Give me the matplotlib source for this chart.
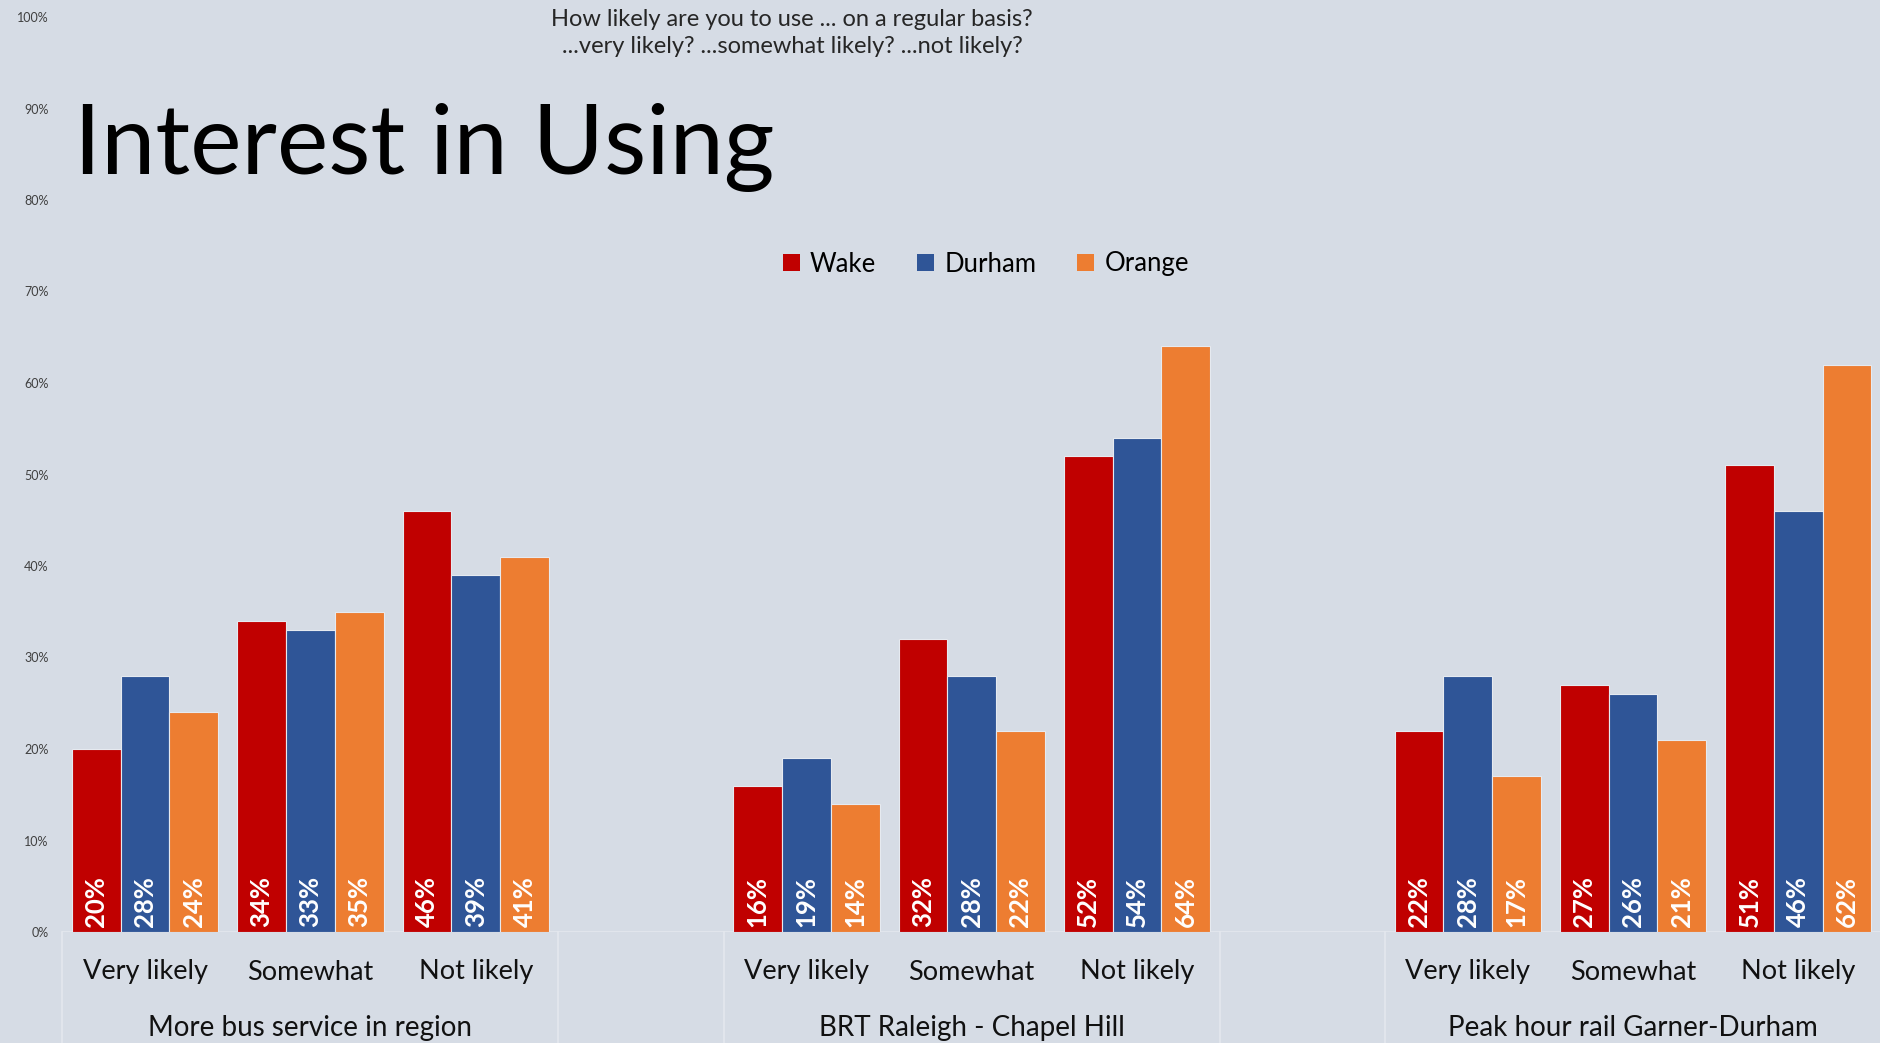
import matplotlib
matplotlib.use("Agg")
import matplotlib.pyplot as plt
from matplotlib.lines import Line2D
from matplotlib.patches import Patch
from matplotlib.ticker import FuncFormatter

# ---- data ----
groups = ["More bus service in region", "BRT Raleigh - Chapel Hill", "Peak hour rail Garner-Durham"]
categories = ["Very likely", "Somewhat", "Not likely"]
series_names = ["Wake", "Durham", "Orange"]
wake = [20, 34, 46, 16, 32, 52, 22, 27, 51]
durham = [28, 33, 39, 19, 28, 54, 28, 26, 46]
orange = [24, 35, 41, 14, 22, 64, 17, 21, 62]
yticks = [0, 10, 20, 30, 40, 50, 60, 70, 80, 90, 100]
title = "Interest in Using"
subtitle = "How likely are you to use ... on a regular basis?\n...very likely? ...somewhat likely? ...not likely?"

colors = ["#C00000", "#2F5597", "#ED7D31"]
bg = "#D6DCE5"
linec = "#E4E8EE"
FONT = ["Lato", "DejaVu Sans"]

W, H = 1881, 1043
fig = plt.figure(figsize=(W / 100, H / 100), dpi=100, facecolor=bg)
left = 62.4 / W
bottom = (H - 932) / H
top = (H - 17) / H
ax = fig.add_axes([left, bottom, 1 - left, top - bottom], facecolor=bg)

n_slots = len(groups) * (len(categories) + 1) - 1
centers = []
for g in range(len(groups)):
    for c in range(len(categories)):
        centers.append(g * (len(categories) + 1) + c + 0.5)

bw = 0.295
all_series = [wake, durham, orange]
for i, (vals, col) in enumerate(zip(all_series, colors)):
    xs = [x + (i - 1) * bw for x in centers]
    ax.bar(xs, vals, width=bw, color=col, edgecolor="#E6EAF0", linewidth=0.8, zorder=3)
    for x, v in zip(xs, vals):
        ax.annotate(f"{v}%", xy=(x, 0), xytext=(0, 3.5), textcoords="offset points",
                    rotation=90, ha="center", va="bottom", color="white",
                    fontsize=18.5, fontweight="bold", family=FONT, zorder=4)

ax.set_xlim(0, n_slots)
ax.set_ylim(0, 100)
ax.set_yticks(yticks)
ax.yaxis.set_major_formatter(FuncFormatter(lambda v, p: f"{int(v)}%"))
ax.tick_params(axis="y", length=0, pad=10, labelsize=9, labelcolor="#404040")
for lab in ax.get_yticklabels():
    lab.set_family(FONT)
ax.set_xticks([])
for s in ax.spines.values():
    s.set_visible(False)

# baseline
ax.axhline(0, color=linec, lw=1.2, zorder=2)

# separator lines below axis
ylow = -bottom / (top - bottom)
xform = ax.get_xaxis_transform()
seps = [0]
for g in range(len(groups)):
    start = g * (len(categories) + 1)
    seps += [start, start + len(categories)]
for sx in sorted(set(seps)):
    ax.add_line(Line2D([sx, sx], [0, ylow], transform=xform, color=linec, lw=1.2, clip_on=False))

# category and group labels
ycat = (H - 972) / H
ygrp = (H - 1028) / H
for x, cat in zip(centers, categories * len(groups)):
    fx = left + (1 - left) * x / n_slots
    fig.text(fx, ycat, cat, ha="center", va="center", fontsize=19.5, family=FONT, color="#111111")
for g, name in enumerate(groups):
    gx = g * (len(categories) + 1) + len(categories) / 2
    fx = left + (1 - left) * gx / n_slots
    fig.text(fx, ygrp, name, ha="center", va="center", fontsize=20, family=FONT, color="#111111")

# title & subtitle
fig.text(74 / W, (H - 174) / H, title, ha="left", va="baseline", fontsize=70, family=FONT, color="black")
fig.text(792 / W, (H - 33) / H, subtitle, ha="center", va="center", fontsize=17, family=FONT,
         color="#262626", linespacing=1.35)

# legend
handles = [Patch(facecolor=c, edgecolor="none") for c in colors]
fig.legend(handles, series_names, loc="center", bbox_to_anchor=(986 / W, (H - 264) / H),
           ncol=3, frameon=False, prop={"family": FONT, "size": 18.5},
           handlelength=0.65, handleheight=0.65, handletextpad=0.4, columnspacing=1.6)

fig.savefig("out.png", dpi=100, facecolor=bg)
